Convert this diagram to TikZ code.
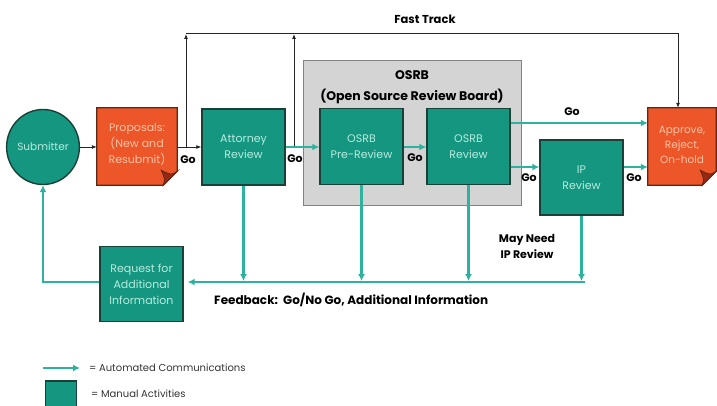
\documentclass[tikz,border=0pt]{standalone}
\usepackage{fontspec}
\setmainfont{Poppins}
\usetikzlibrary{arrows.meta,shapes.geometric,calc}
\definecolor{tbox}{RGB}{20,150,128}
\definecolor{tborder}{RGB}{25,65,55}
\definecolor{ttext}{RGB}{185,235,222}
\definecolor{tline}{RGB}{45,178,158}
\definecolor{obox}{RGB}{236,86,40}
\definecolor{oborder}{RGB}{95,40,20}
\definecolor{ofold}{RGB}{150,40,20}
\definecolor{otext}{RGB}{252,196,166}
\definecolor{gbox}{RGB}{212,212,212}
\definecolor{gborder}{RGB}{130,130,130}
\begin{document}
\begin{tikzpicture}[x=1pt,y=-1pt,
  tbx/.style={draw=tborder,line width=1.4pt,fill=tbox,text=ttext,align=center,
    minimum width=83pt,minimum height=76pt,inner sep=1pt,
    font=\fontsize{11}{16}\selectfont},
  obx/.style={align=center,text=otext,inner sep=1pt,
    font=\fontsize{11}{16}\selectfont},
  tarr/.style={draw=tline,line width=2.4pt,-{Latex[length=7pt,width=7pt]}},
  tln/.style={draw=tline,line width=2.4pt},
  barr/.style={draw=black!85,line width=0.8pt,-{Latex[length=5pt,width=4pt]}},
  bln/.style={draw=black!85,line width=0.8pt},
  lbl/.style={font=\bfseries\fontsize{11}{13}\selectfont,inner sep=0pt},
  leg/.style={font=\fontsize{10}{11}\selectfont,text=black!80,anchor=west,inner sep=0pt},
]
\useasboundingbox (0,0) rectangle (717,406);

% OSRB background
\node[fill=gbox,draw=gborder,line width=1pt,minimum width=218pt,minimum height=145pt,inner sep=0pt] (osrb) at (412,133) {};
\node[lbl,font=\bfseries\fontsize{12.5}{14}\selectfont] (ot1) at (412,75) {OSRB};
\node[lbl,font=\bfseries\fontsize{12.5}{14}\selectfont] (ot2) at (412,96) {(Open Source Review Board)};

% Submitter
\node[ellipse,draw=tborder,line width=1.4pt,fill=tbox,text=ttext,minimum width=66pt,minimum height=75pt,inner sep=0pt,font=\fontsize{10.5}{12}\selectfont] (sub) at (43,147) {Submitter};

% Proposals (orange, dog-ear)
\node[obx,minimum width=80pt,minimum height=77pt] (prop) at (137,146.5) {};
\filldraw[fill=obox,draw=oborder,line width=1.2pt]
  (prop.north west) -- (prop.north east) -- ([yshift=14pt]prop.south east)
  -- ([xshift=-14pt]prop.south east) -- (prop.south west) -- cycle;
\filldraw[fill=ofold,draw=oborder,line width=0.8pt]
  ([yshift=14pt]prop.south east) .. controls ([xshift=-6pt,yshift=10pt]prop.south east) .. ([xshift=-16pt,yshift=15pt]prop.south east)
  .. controls ([xshift=-12pt,yshift=6pt]prop.south east) .. ([xshift=-14pt]prop.south east) -- cycle;
\node[obx] (propt) at ([yshift=2pt]prop.center) {Proposals:\\(New and\\Resubmit)};

% Approve (orange, dog-ear)
\node[obx,minimum width=68pt,minimum height=77pt] (app) at (682,146.5) {};
\filldraw[fill=obox,draw=oborder,line width=1.2pt]
  (app.north west) -- (app.north east) -- ([yshift=14pt]app.south east)
  -- ([xshift=-14pt]app.south east) -- (app.south west) -- cycle;
\filldraw[fill=ofold,draw=oborder,line width=0.8pt]
  ([yshift=14pt]app.south east) .. controls ([xshift=-6pt,yshift=10pt]app.south east) .. ([xshift=-16pt,yshift=15pt]app.south east)
  .. controls ([xshift=-12pt,yshift=6pt]app.south east) .. ([xshift=-14pt]app.south east) -- cycle;
\node[obx,font=\fontsize{10.5}{15}\selectfont] (appt) at ([yshift=2pt]app.center) {Approve,\\Reject,\\On-hold};

% Teal boxes
\node[tbx] (att) at (243.5,147) {Attorney\\Review};
\node[tbx] (pre) at (361.5,146.5) {OSRB\\Pre-Review};
\node[tbx] (rev) at (468.5,146.5) {OSRB\\Review};
\node[tbx,minimum height=75pt] (ip) at (581.5,177.5) {IP\\Review};
\node[tbx,minimum height=75pt] (req) at (141.5,284) {Request for\\Additional\\Information};

% coordinates
\coordinate (fb) at (0,282);
\coordinate (yA) at (0,147);
\coordinate (yT) at (0,123);
\coordinate (yL) at (0,167);
\coordinate (j1) at (186,147);
\coordinate (j2) at (294,147);
\coordinate (t1) at (186,33);
\coordinate (t2) at (294,33);
\coordinate (t3) at (678,33);

% black fast-track lines
\draw[barr] (sub.east) -- (prop.west |- sub.east) ;
\draw[barr] (prop.east |- yA) -- (att.west |- yA);
\draw[barr] (j1) -- ([yshift=-1pt]t1);
\draw[barr] (j2) -- ([yshift=-1pt]t2);
\draw[barr] (t1) -- (t3) -- (app.north -| t3);

% teal flows
\draw[tarr] (att.east |- yA) -- (pre.west |- yA);
\draw[tarr] (pre.east |- yA) -- (rev.west |- yA);
\draw[tarr] (rev.east |- yT) -- (app.west |- yT);
\draw[tarr] (rev.east |- yL) -- (ip.west |- yL);
\draw[tarr] (ip.east |- yL) -- (app.west |- yL);

% feedback
\draw[tarr] (att.south) -- ([yshift=1pt]att.south |- fb);
\draw[tarr] (pre.south) -- ([yshift=1pt]pre.south |- fb);
\draw[tarr] (rev.south) -- ([yshift=1pt]rev.south |- fb);
\draw[tarr] (ip.south) -- ([yshift=1pt]ip.south |- fb);
\draw[tarr] ([xshift=3pt]ip.south |- fb) -- ([xshift=4pt]req.east |- fb);
\draw[tarr] (req.west |- fb) -| (sub.south);

% labels
\node[lbl] (go1) at (188,160) {Go};
\node[lbl] (go2) at (295,159) {Go};
\node[lbl] (go3) at (415,158) {Go};
\node[lbl] (go4) at (529,178) {Go};
\node[lbl] (go5) at (572,112) {Go};
\node[lbl] (go6) at (634,178) {Go};
\node[lbl,font=\bfseries\fontsize{11.5}{13}\selectfont] (ft) at (425,19) {Fast Track};
\node[lbl,align=center,font=\bfseries\fontsize{11}{16}\selectfont] (may) at (527,246) {May Need\\IP Review};
\node[lbl,font=\bfseries\fontsize{12}{14}\selectfont,anchor=west] (fbt) at (214,300) {Feedback:\ \ Go/No Go, Additional Information};

% legend
\coordinate (l1) at (43,368);
\coordinate (l2) at (80,368);
\draw[tarr] (l1) -- (l2);
\node[leg] (lega) at (89,368) {= Automated Communications};
\node[draw=tborder,line width=1.4pt,fill=tbox,minimum width=31pt,minimum height=26pt,inner sep=0pt] (legb) at (61,394) {};
\node[leg] (legbt) at (91,394) {= Manual Activities};
\end{tikzpicture}
\end{document}
